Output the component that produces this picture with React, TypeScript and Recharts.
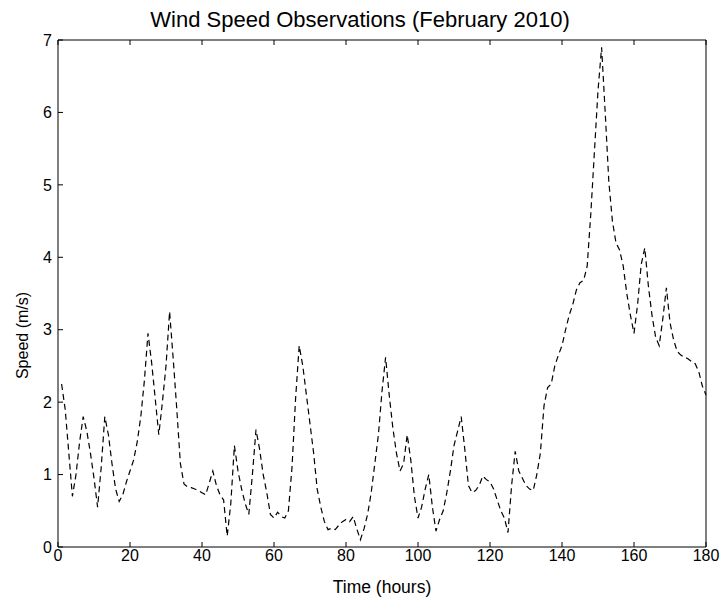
import React from 'react';
import { LineChart, Line, XAxis, YAxis, Label } from 'recharts';

const hours: number[] = [
  1, 2, 3, 4, 5, 6, 7, 8, 9, 10, 11, 12, 13, 14, 15, 16, 17, 18, 19, 20,
  21, 22, 23, 24, 25, 26, 27, 28, 29, 30, 31, 32, 33, 34, 35, 36, 37, 38, 39, 40,
  41, 42, 43, 44, 45, 46, 47, 48, 49, 50, 51, 52, 53, 54, 55, 56, 57, 58, 59, 60,
  61, 62, 63, 64, 65, 66, 67, 68, 69, 70, 71, 72, 73, 74, 75, 76, 77, 78, 79, 80,
  81, 82, 83, 84, 85, 86, 87, 88, 89, 90, 91, 92, 93, 94, 95, 96, 97, 98, 99, 100,
  101, 102, 103, 104, 105, 106, 107, 108, 109, 110, 111, 112, 113, 114, 115, 116, 117, 118, 119, 120,
  121, 122, 123, 124, 125, 126, 127, 128, 129, 130, 131, 132, 133, 134, 135, 136, 137, 138, 139, 140,
  141, 142, 143, 144, 145, 146, 147, 148, 149, 150, 151, 152, 153, 154, 155, 156, 157, 158, 159, 160,
  161, 162, 163, 164, 165, 166, 167, 168, 169, 170, 171, 172, 173, 174, 175, 176, 177, 178, 179, 180,
];

const speeds: number[] = [
  2.25, 1.9, 1.3, 0.7, 1.0, 1.45, 1.8, 1.6, 1.3, 0.95, 0.55, 1.1, 1.8, 1.55, 1.15, 0.8, 0.63, 0.72, 0.9, 1.05,
  1.2, 1.45, 1.8, 2.3, 2.95, 2.55, 2.05, 1.55, 2.0, 2.5, 3.25, 2.6, 1.9, 1.15, 0.87, 0.83, 0.82, 0.8, 0.78, 0.75,
  0.72, 0.88, 1.05, 0.85, 0.72, 0.65, 0.15, 0.6, 1.4, 1.05, 0.8, 0.6, 0.45, 1.0, 1.62, 1.35, 1.0, 0.75, 0.45, 0.4,
  0.48, 0.42, 0.4, 0.5, 1.1, 2.05, 2.78, 2.5, 2.1, 1.7, 1.3, 0.8, 0.55, 0.35, 0.24, 0.26, 0.24, 0.3, 0.35, 0.38,
  0.35, 0.42, 0.25, 0.1, 0.25, 0.45, 0.75, 1.15, 1.55, 2.15, 2.62, 2.1, 1.65, 1.3, 1.05, 1.15, 1.55, 1.2, 0.7, 0.4,
  0.55, 0.8, 1.0, 0.55, 0.22, 0.38, 0.5, 0.75, 1.05, 1.4, 1.6, 1.8, 1.35, 0.85, 0.75, 0.78, 0.85, 0.98, 0.93, 0.9,
  0.8, 0.65, 0.5, 0.4, 0.2, 0.85, 1.32, 1.05, 0.95, 0.85, 0.8, 0.78, 1.0, 1.3, 1.95, 2.2, 2.25, 2.5, 2.65, 2.78,
  3.0, 3.2, 3.35, 3.55, 3.65, 3.68, 3.88, 4.6, 5.45, 6.3, 6.9, 6.0, 5.05, 4.5, 4.2, 4.1, 3.88, 3.5, 3.2, 2.95,
  3.35, 3.9, 4.13, 3.6, 3.2, 2.9, 2.78, 3.15, 3.58, 3.1, 2.86, 2.7, 2.65, 2.62, 2.6, 2.56, 2.53, 2.42, 2.22, 2.1,
];

const xTicks: number[] = [0, 20, 40, 60, 80, 100, 120, 140, 160, 180];
const yTicks: number[] = [0, 1, 2, 3, 4, 5, 6, 7];

const titleText = 'Wind Speed Observations (February 2010)';
const xLabel = 'Time (hours)';
const yLabel = 'Speed (m/s)';

const data = hours.map((h, i) => ({ h, v: speeds[i] }));

const FONT = '"Liberation Sans", Arial, sans-serif';

export default function App() {
  return (
    <div style={{ position: 'absolute', left: 0, top: 0, width: 723, height: 606, background: '#fff' }}>
      <div
        style={{
          position: 'absolute',
          left: 0,
          width: 720,
          top: 6,
          textAlign: 'center',
          fontFamily: FONT,
          fontSize: 22,
          lineHeight: '27px',
          color: '#000',
        }}
      >
        {titleText}
      </div>
      <LineChart
        width={723}
        height={606}
        data={data}
        margin={{ top: 39, right: 16, bottom: 0, left: 0 }}
      >
        <XAxis
          xAxisId="b"
          dataKey="h"
          type="number"
          domain={[0, 180]}
          ticks={xTicks}
          height={59}
          tickSize={-5}
          tickMargin={8}
          axisLine={{ stroke: '#000' }}
          tickLine={{ stroke: '#000' }}
          tick={{ fill: '#000', fontSize: 16, fontFamily: FONT }}
          interval={0}
        >
          <Label value={xLabel} position="center" dy={10} fill="#000" fontSize={17.5} fontFamily={FONT} />
        </XAxis>
        <XAxis
          xAxisId="t"
          orientation="top"
          dataKey="h"
          type="number"
          domain={[0, 180]}
          ticks={xTicks}
          height={1}
          tickSize={-5}
          axisLine={{ stroke: '#000' }}
          tickLine={{ stroke: '#000' }}
          tickFormatter={() => ''}
          interval={0}
        />
        <YAxis
          yAxisId="l"
          type="number"
          domain={[0, 7]}
          ticks={yTicks}
          width={58}
          tickSize={-5}
          tickMargin={11}
          axisLine={{ stroke: '#000' }}
          tickLine={{ stroke: '#000' }}
          tick={{ fill: '#000', fontSize: 16, fontFamily: FONT }}
          interval={0}
        >
          <Label value={yLabel} angle={-90} position="center" dx={-7} dy={42} fill="#000" fontSize={16} fontFamily={FONT} />
        </YAxis>
        <YAxis
          yAxisId="r"
          orientation="right"
          type="number"
          domain={[0, 7]}
          ticks={yTicks}
          width={1}
          tickSize={-5}
          axisLine={{ stroke: '#000' }}
          tickLine={{ stroke: '#000' }}
          tickFormatter={() => ''}
          interval={0}
        />
        <Line
          xAxisId="b"
          yAxisId="l"
          type="linear"
          dataKey="v"
          stroke="#000"
          strokeWidth={1.2}
          strokeDasharray="6 4"
          dot={false}
          isAnimationActive={false}
        />
      </LineChart>
    </div>
  );
}
